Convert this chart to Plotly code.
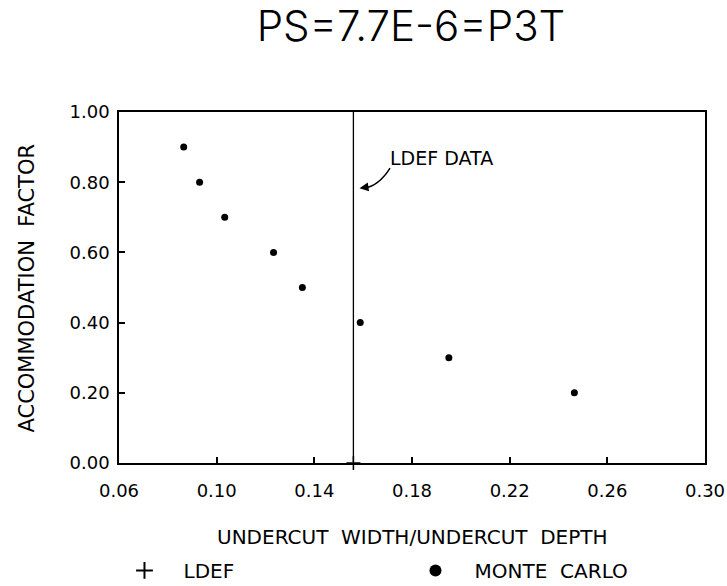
import plotly.graph_objects as go

# ---- data ----
title_text = "PS=7.7E-6=P3T"
x_label = "UNDERCUT  WIDTH/UNDERCUT  DEPTH"
y_label = "ACCOMMODATION  FACTOR"

mc_x = [0.0865, 0.093, 0.1033, 0.1233, 0.1351, 0.1588, 0.1951, 0.2465]
mc_y = [0.90, 0.80, 0.70, 0.60, 0.50, 0.40, 0.30, 0.20]

ldef_x = [0.156]
ldef_y = [0.0]
ldef_line_y = [0.0, 1.0]

x_ticks = [0.06, 0.10, 0.14, 0.18, 0.22, 0.26, 0.30]
y_ticks = [0.0, 0.2, 0.4, 0.6, 0.8, 1.0]

legend_names = ["\u00a0\u00a0\u00a0LDEF", "\u00a0\u00a0\u00a0MONTE\u00a0\u00a0CARLO"]

note_text = "LDEF DATA"
note_pos = (0.192, 0.87)
arrow_start = (0.171, 0.840)
arrow_ctrl = (0.1665, 0.790)
arrow_tip = (0.1585, 0.783)

FONT = "DejaVu Sans"
BLACK = "#000000"

fig = go.Figure()

fig.add_trace(go.Scatter(
    x=[ldef_x[0], ldef_x[0]], y=ldef_line_y, mode="lines",
    line=dict(color=BLACK, width=1.3), showlegend=False, hoverinfo="skip"))

fig.add_trace(go.Scatter(
    x=ldef_x, y=ldef_y, mode="markers", name=legend_names[0],
    marker=dict(symbol="cross-thin", size=10, color=BLACK,
                line=dict(color=BLACK, width=1.5)),
    cliponaxis=False))

fig.add_trace(go.Scatter(
    x=mc_x, y=mc_y, mode="markers", name=legend_names[1],
    marker=dict(symbol="circle", size=7, color=BLACK)))

# curved arrow to the LDEF line
fig.add_shape(type="path",
              path=f"M {arrow_start[0]},{arrow_start[1]} Q {arrow_ctrl[0]},{arrow_ctrl[1]} {arrow_tip[0] + 0.002},{arrow_tip[1]}",
              xref="x", yref="y", line=dict(color=BLACK, width=1.5))
fig.add_annotation(x=arrow_tip[0], y=arrow_tip[1], ax=arrow_tip[0] + 0.004, ay=arrow_tip[1] + 0.004,
                   axref="x", ayref="y", xref="x", yref="y", text="",
                   showarrow=True, arrowhead=2, arrowsize=1.2, arrowwidth=1.5, arrowcolor=BLACK)
fig.add_annotation(x=note_pos[0], y=note_pos[1], xref="x", yref="y", text=note_text,
                   showarrow=False, font=dict(family=FONT, size=19, color=BLACK),
                   xanchor="center", yanchor="middle")

# axis titles
fig.add_annotation(x=0.5, y=-0.211, xref="paper", yref="paper", text=x_label,
                   showarrow=False, font=dict(family=FONT, size=20, color=BLACK),
                   xanchor="center", yanchor="middle")
fig.add_annotation(x=-0.157, y=0.5, xref="paper", yref="paper", text=y_label,
                   showarrow=False, textangle=-90, font=dict(family=FONT, size=21, color=BLACK),
                   xanchor="center", yanchor="middle")

axis_common = dict(showline=True, linecolor=BLACK, linewidth=1.5, mirror=True,
                   ticks="inside", ticklen=6, tickwidth=1.5, tickcolor=BLACK,
                   showgrid=False, zeroline=False,
                   tickfont=dict(family=FONT, size=18, color=BLACK), tickformat=".2f")

fig.update_layout(
    width=727, height=586,
    margin=dict(l=119, r=22, t=112, b=123, autoexpand=False),
    paper_bgcolor="white", plot_bgcolor="white",
    title=dict(text=title_text, x=411 / 727, xanchor="center", y=1 - 26 / 586, yanchor="middle",
               font=dict(family="Inter", size=42, color=BLACK, weight=300)),
    xaxis=dict(range=[0.06, 0.30], tickvals=x_ticks, ticklabelstandoff=11, **axis_common),
    yaxis=dict(range=[0.0, 1.0], tickvals=y_ticks, ticklabelstandoff=4, **axis_common),
    legend=dict(orientation="h", x=-0.006, xanchor="left", y=-0.306, yanchor="middle",
                entrywidth=246, entrywidthmode="pixels", itemsizing="constant",
                borderwidth=9, bordercolor="rgba(0,0,0,0)",
                font=dict(family=FONT, size=20, color=BLACK), bgcolor="rgba(0,0,0,0)"),
    showlegend=True,
)

fig.write_html("out.html", config={"displayModeBar": False},
               post_script="document.body.style.margin='0';")
